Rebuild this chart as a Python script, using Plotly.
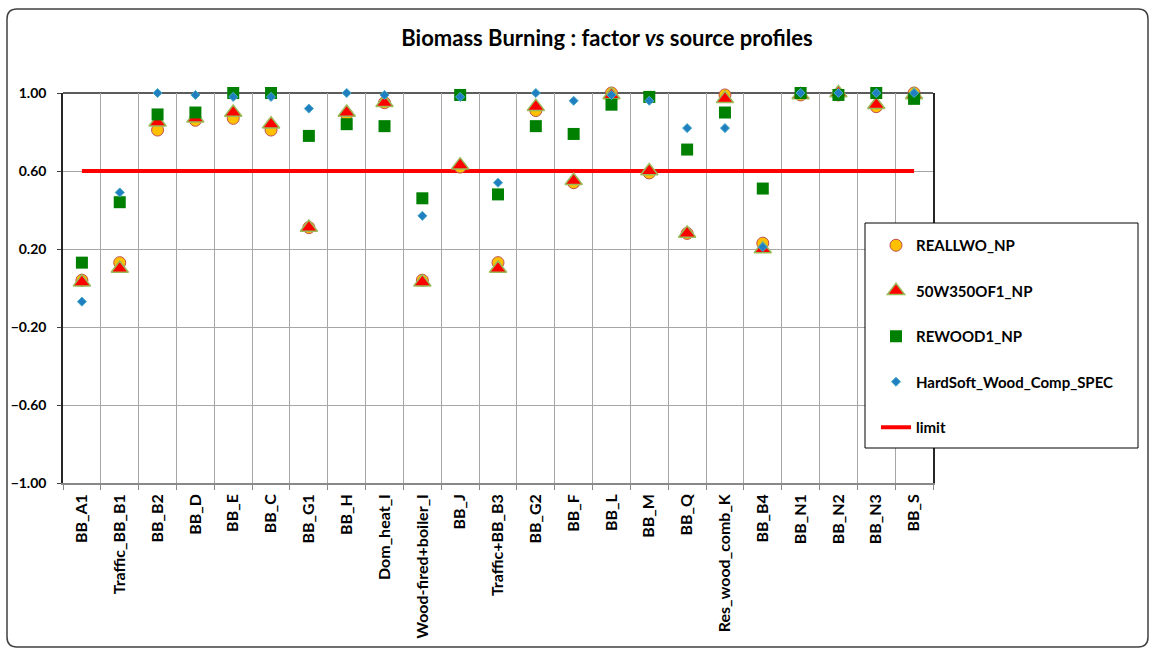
import plotly.graph_objects as go

categories = ["BB_A1", "Traffic_BB_B1", "BB_B2", "BB_D", "BB_E", "BB_C", "BB_G1", "BB_H",
              "Dom_heat_I", "Wood-fired+boiler_I", "BB_J", "Traffic+BB_B3", "BB_G2", "BB_F",
              "BB_L", "BB_M", "BB_Q", "Res_wood_comb_K", "BB_B4", "BB_N1", "BB_N2", "BB_N3", "BB_S"]

reallwo_np = [0.04, 0.13, 0.81, 0.86, 0.87, 0.81, 0.31, 0.89, 0.95, 0.04, 0.62, 0.13, 0.91,
              0.54, 1.00, 0.59, 0.28, 0.99, 0.23, 0.99, 0.99, 0.93, 1.00]
w50_350of1_np = [0.03, 0.10, 0.85, 0.87, 0.90, 0.84, 0.31, 0.90, 0.95, 0.03, 0.63, 0.10, 0.93,
                 0.55, 0.99, 0.60, 0.28, 0.97, 0.20, 0.99, 1.00, 0.94, 0.99]
rewood1_np = [0.13, 0.44, 0.89, 0.90, 1.00, 1.00, 0.78, 0.84, 0.83, 0.46, 0.99, 0.48, 0.83,
              0.79, 0.94, 0.98, 0.71, 0.90, 0.51, 1.00, 0.99, 1.00, 0.97]
hardsoft_spec = [-0.07, 0.49, 1.00, 0.99, 0.98, 0.98, 0.92, 1.00, 0.99, 0.37, 0.98, 0.54, 1.00,
                 0.96, 0.99, 0.96, 0.82, 0.82, 0.21, 1.00, 1.00, 1.00, 1.00]
limit_value = 0.60
limit = [limit_value] * len(categories)

y_ticks = [-1.0, -0.6, -0.2, 0.2, 0.6, 1.0]

# plot area in pixels
W, H = 1149, 650
L, R, T, B = 63, 933, 93, 483


def px(x):
    return (x - L) / (R - L)


def py(y):
    return (B - y) / (B - T)


FONT = "Lato"

fig = go.Figure()

fig.add_trace(go.Scatter(
    x=categories, y=limit, mode="lines", name="limit",
    line=dict(color="#FF0000", width=4), legendrank=5, legendgroup="e",
    cliponaxis=False))
fig.add_trace(go.Scatter(
    x=categories, y=reallwo_np, mode="markers", name="REALLWO_NP",
    marker=dict(symbol="circle", size=12, color="#FFC000", line=dict(color="#C0504D", width=1)),
    legendrank=1, legendgroup="a", cliponaxis=False))
fig.add_trace(go.Scatter(
    x=categories, y=w50_350of1_np, mode="markers", name="50W350OF1_NP",
    marker=dict(symbol="triangle-up", size=15, color="#FF0000", line=dict(color="#9BBB59", width=1.5)),
    legendrank=2, legendgroup="b", cliponaxis=False))
fig.add_trace(go.Scatter(
    x=categories, y=rewood1_np, mode="markers", name="REWOOD1_NP",
    marker=dict(symbol="square", size=12, color="#008000", line=dict(width=0)),
    legendrank=3, legendgroup="c", cliponaxis=False))
fig.add_trace(go.Scatter(
    x=categories, y=hardsoft_spec, mode="markers", name="HardSoft_Wood_Comp_SPEC",
    marker=dict(symbol="diamond", size=7, color="#1F7FC1", line=dict(color="#4BACC6", width=1)),
    legendrank=4, legendgroup="d", cliponaxis=False))

shapes = []
# outer rounded chart border
x0, y0, x1, y1, r = 7, 9, 1148, 647, 10
path = (f"M {px(x0 + r)},{py(y0)} L {px(x1 - r)},{py(y0)} "
        f"Q {px(x1)},{py(y0)} {px(x1)},{py(y0 + r)} L {px(x1)},{py(y1 - r)} "
        f"Q {px(x1)},{py(y1)} {px(x1 - r)},{py(y1)} L {px(x0 + r)},{py(y1)} "
        f"Q {px(x0)},{py(y1)} {px(x0)},{py(y1 - r)} L {px(x0)},{py(y0 + r)} "
        f"Q {px(x0)},{py(y0)} {px(x0 + r)},{py(y0)} Z")
shapes.append(dict(type="path", xref="paper", yref="paper", path=path,
                   line=dict(color="#404040", width=1.5), layer="below"))
# top border of plot area
shapes.append(dict(type="line", xref="paper", yref="paper", x0=0, x1=1, y0=1, y1=1,
                   line=dict(color="#262626", width=1.5), layer="below"))
# legend box
shapes.append(dict(type="rect", xref="paper", yref="paper",
                   x0=px(865), x1=px(1138), y0=py(448), y1=py(223),
                   line=dict(color="#000000", width=1), fillcolor="white", layer="above"))

fig.update_layout(
    width=W, height=H,
    margin=dict(l=L, r=W - R, t=T, b=H - B),
    paper_bgcolor="white", plot_bgcolor="white",
    font=dict(family=FONT, color="#000000", weight="bold"),
    title=dict(text="Biomass Burning : factor <i>vs</i> source profiles",
               x=607 / W, xref="container", xanchor="center",
               y=1 - 38 / H, yref="container", yanchor="middle",
               font=dict(family=FONT, size=22, color="#000000", weight="bold")),
    showlegend=True,
    legend=dict(x=px(876), y=py(229), xanchor="left", yanchor="top",
                bgcolor="rgba(0,0,0,0)", borderwidth=0,
                font=dict(family=FONT, size=15, color="#000000", weight="bold"),
                tracegroupgap=23, traceorder="grouped"),
    shapes=shapes,
)

fig.update_xaxes(
    type="category", range=[-0.5, len(categories) - 0.5],
    tickson="boundaries", ticks="outside", ticklen=5, tickcolor="#888888",
    showgrid=True, gridcolor="#A6A6A6", gridwidth=1,
    showline=True, linecolor="#888888", linewidth=1.5,
    tickangle=-90, tickfont=dict(family=FONT, size=16, color="#000000", weight="bold"),
    ticklabelstandoff=3,
)
fig.update_yaxes(
    range=[-1, 1], tickvals=y_ticks, tickformat=".2f",
    ticks="outside", ticklen=4, tickcolor="#404040",
    showgrid=True, gridcolor="#A6A6A6", gridwidth=1, zeroline=False,
    showline=True, linecolor="#262626", linewidth=1.5, mirror=True,
    tickfont=dict(family=FONT, size=14, color="#000000", weight="bold"),
    ticklabelstandoff=8,
)

fig.write_html("out.html", post_script="document.body.style.margin='0px';",
               config={"displayModeBar": False})
